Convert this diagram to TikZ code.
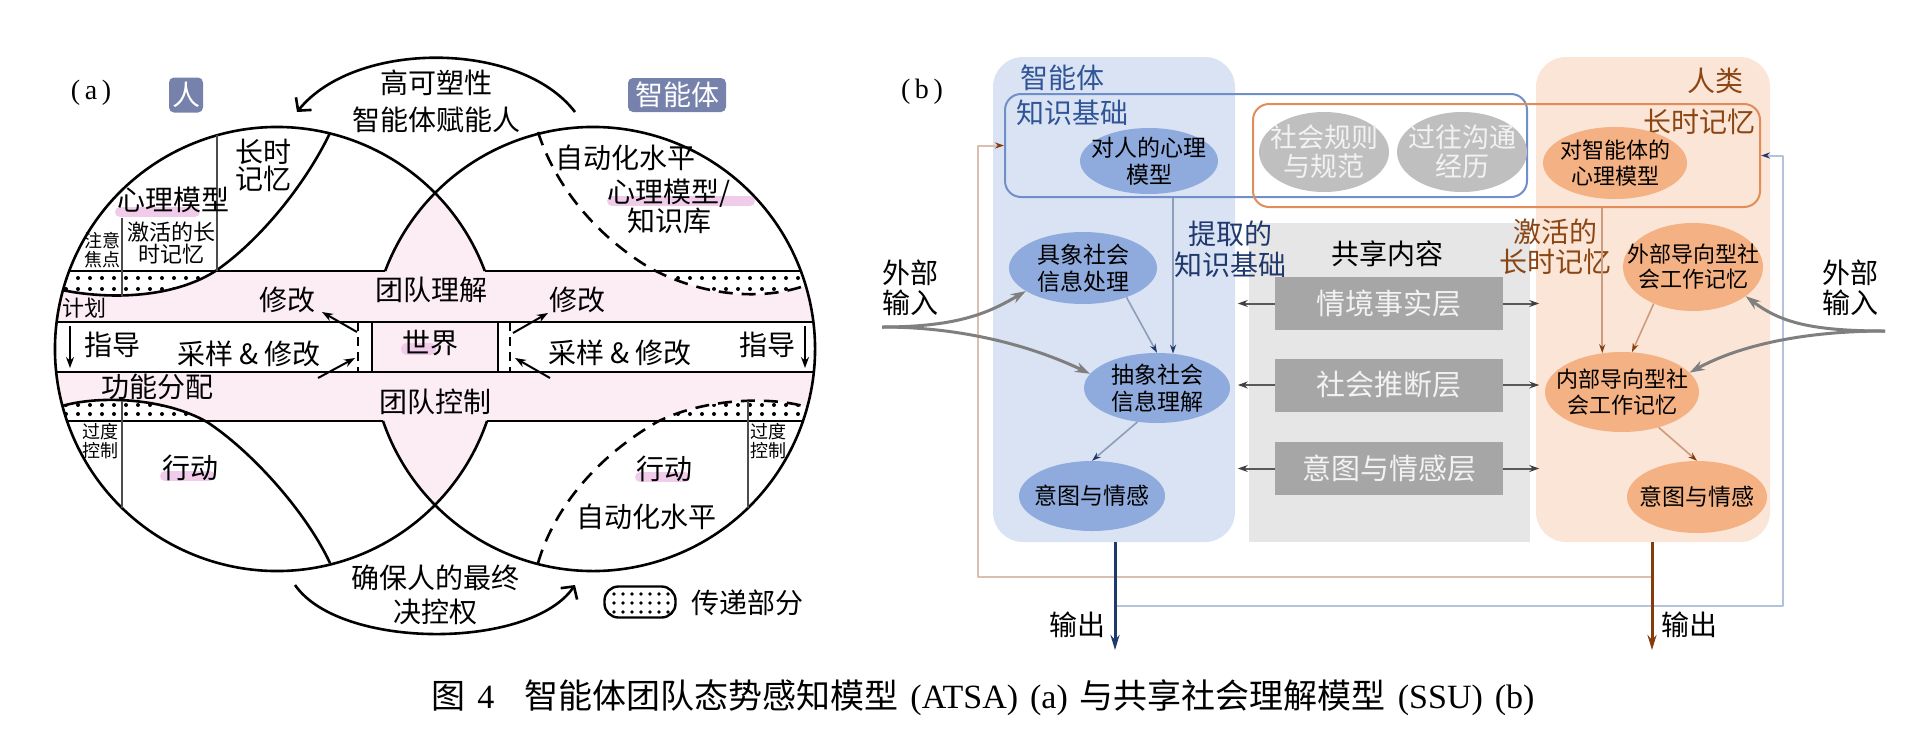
\documentclass[tikz,border=0pt]{standalone}
\usepackage{fontspec}
\setmainfont{Noto Sans CJK SC}
\newfontfamily\latinf{Liberation Serif}
\usetikzlibrary{calc,arrows.meta,shapes.geometric}
\definecolor{bandpink}{RGB}{252,237,245}
\definecolor{hlpink}{RGB}{240,204,234}
\definecolor{badge}{RGB}{118,130,172}
\definecolor{agentbg}{RGB}{218,227,243}
\definecolor{agentel}{RGB}{143,170,220}
\definecolor{humanbg}{RGB}{251,229,214}
\definecolor{humanel}{RGB}{244,177,131}
\definecolor{sharedbg}{RGB}{230,230,230}
\definecolor{layerbox}{RGB}{166,166,166}
\definecolor{grayel}{RGB}{191,191,191}
\definecolor{kbblue}{RGB}{112,143,200}
\definecolor{ltmorange}{RGB}{226,140,90}
\definecolor{titleblue}{RGB}{47,85,151}
\definecolor{navy}{RGB}{31,56,110}
\definecolor{brownt}{RGB}{140,70,20}
\definecolor{fbbrown}{RGB}{218,190,175}
\definecolor{fbblue}{RGB}{180,194,220}
\definecolor{inarrow}{RGB}{127,127,127}
\definecolor{agarrow}{RGB}{140,158,185}
\definecolor{hmarrow}{RGB}{205,155,125}
\definecolor{outbrown}{RGB}{132,60,12}
\definecolor{laytext}{RGB}{242,242,242}
\tikzset{
  txt/.style={inner sep=0pt, align=center, font=\fontsize{28}{30}\selectfont},
  txts/.style={inner sep=0pt, align=center, font=\fontsize{22}{22}\selectfont},
  txtxs/.style={inner sep=0pt, align=center, font=\fontsize{18}{18.5}\selectfont},
  bline/.style={line width=2.6pt, black},
  cellline/.style={line width=1.8pt, black!70},
  hl/.style={hlpink, line width=10pt, line cap=round},
  arrA/.style={line width=2pt, -{Stealth[length=11pt,width=8pt]}},
  bigarr/.style={line width=2.6pt, -{Straight Barb[length=9pt,width=20pt]}},
  badgebox/.style={fill=badge, rounded corners=5pt, text=white, inner sep=0pt, font=\fontsize{28}{30}\selectfont},
  ell/.style={ellipse, inner sep=-20pt, align=center, font=\fontsize{23}{27}\selectfont},
  agell/.style={ell, fill=agentel},
  huell/.style={ell, fill=humanel},
  grell/.style={ell, fill=grayel, text=laytext, font=\fontsize{27}{29}\selectfont},
  layer/.style={fill=layerbox, text=laytext, inner sep=0pt, minimum width=228pt, minimum height=53pt, font=\fontsize{29}{30}\selectfont},
  layarr/.style={black!65, line width=2pt, -{Stealth[length=10pt,width=7pt,color=black!75]}},
  agarr/.style={agarrow, line width=1.6pt, -{Stealth[length=9pt,width=6pt,color=navy]}},
  hmarr/.style={hmarrow, line width=1.6pt, -{Stealth[length=9pt,width=6pt,color=outbrown]}},
  inarr/.style={inarrow, line width=3pt, -{Stealth[length=15pt,width=10pt]}},
}
\begin{document}
\begin{tikzpicture}[x=1pt,y=-1pt,line join=round]
\useasboundingbox (0,0) rectangle (1932,734);

% ================= panel (a) =================
% pink fills
\begin{scope}
  \clip (277,349) circle[radius=222pt] (593,349) circle[radius=222pt];
  \fill[bandpink] (0,271) rectangle (900,322);
  \fill[bandpink] (0,372) rectangle (900,421);
  \fill[bandpink] (372,322) rectangle (498,372);
\end{scope}
\begin{scope}
  \clip (277,349) circle[radius=222pt];
  \fill[bandpink] (593,349) circle[radius=222pt];
\end{scope}

% dotted regions
\begin{scope}
  \clip (277,349) circle[radius=222pt];
  \clip (40,271) rectangle (260,310);
  \clip (330,133) .. controls (305,185) and (260,240) .. (217,270) .. controls (175,298) and (110,300) .. (62,290) -- (0,300) -- (0,100) -- (330,100) -- cycle;
  \fill[white] (0,0) rectangle (900,700);
  \foreach \yy in {278,289} \foreach \xx in {66,78,...,260} \fill (\xx,\yy) circle[radius=2pt];
\end{scope}
\begin{scope}
  \clip (277,349) circle[radius=222pt];
  \clip (40,390) rectangle (260,421);
  \clip (330,563) .. controls (305,510) and (250,450) .. (207,422) .. controls (165,398) and (100,395) .. (62,406) -- (0,400) -- (0,600) -- (330,600) -- cycle;
  \fill[white] (0,0) rectangle (900,700);
  \foreach \yy in {405,414} \foreach \xx in {66,78,...,260} \fill (\xx,\yy) circle[radius=2pt];
\end{scope}
\begin{scope}
  \clip (593,349) circle[radius=222pt];
  \clip (600,271) rectangle (830,310);
  \clip (538,132) .. controls (555,185) and (595,235) .. (650,268) .. controls (700,295) and (760,302) .. (807,285) -- (830,290) -- (830,100) -- (538,100) -- cycle;
  \fill[white] (0,0) rectangle (900,700);
  \foreach \yy in {278,289} \foreach \xx in {606,618,...,830} \fill (\xx,\yy) circle[radius=2pt];
\end{scope}
\begin{scope}
  \clip (593,349) circle[radius=222pt];
  \clip (600,390) rectangle (830,421);
  \clip (538,563) .. controls (555,505) and (600,455) .. (657,422) .. controls (700,400) and (765,395) .. (807,407) -- (830,400) -- (830,600) -- (538,600) -- cycle;
  \fill[white] (0,0) rectangle (900,700);
  \foreach \yy in {405,414} \foreach \xx in {606,618,...,830} \fill (\xx,\yy) circle[radius=2pt];
\end{scope}

% highlights
\draw[hl] (120,212) -- (195,212);
\draw[hl] (612,201) -- (750,201);
\draw[hl] (165,476) -- (210,476);
\draw[hl] (640,477) -- (685,477);
\draw[hl, line width=12pt] (407,349) -- (430,349);

% outlines
\draw[bline] ($(277,349)+(20.57:222pt)$) arc[start angle=20.57, end angle=341.08, radius=222pt];
\draw[bline] ($(593,349)+(198.92:222pt)$) arc[start angle=198.92, end angle=519.43, radius=222pt];
\draw[bline] (69.15,271) -- (385.15,271);
\draw[bline] (484.85,271) -- (800.85,271);
\draw[bline] (56.65,322) -- (813.35,322);
\draw[bline] (56.2,372) -- (813.8,372);
\draw[bline] (67,421) -- (383,421);
\draw[bline] (487,421) -- (803,421);
\draw[bline] (372,322) -- (372,372);
\draw[bline] (498,322) -- (498,372);
\draw[bline, dash pattern=on 9pt off 6pt] (358,322) -- (358,372);
\draw[bline, dash pattern=on 9pt off 6pt] (510,322) -- (510,372);

% leaf curves
\draw[bline] (330,133) .. controls (305,185) and (260,240) .. (217,270) .. controls (175,298) and (110,300) .. (62,290);
\draw[bline] (330,563) .. controls (305,510) and (250,450) .. (207,422) .. controls (165,398) and (100,395) .. (62,406);
\draw[bline, dash pattern=on 14pt off 9pt] (538,132) .. controls (555,185) and (595,235) .. (650,268) .. controls (700,295) and (760,302) .. (807,285);
\draw[bline, dash pattern=on 14pt off 9pt] (538,563) .. controls (555,505) and (600,455) .. (657,422) .. controls (700,400) and (765,395) .. (807,407);

% cell lines
\draw[cellline] (217,135) -- (217,271);
\draw[cellline] (122,218) -- (122,296);
\draw[cellline] (122,401) -- (122,508);
\draw[cellline] (748,401) -- (748,508);

% small arrows
\draw[arrA] (70,326) -- (70,368);
\draw[arrA] (805,326) -- (805,368);
\draw[arrA] (357,332) -- (322,312);
\draw[arrA] (318,378) -- (355,358);
\draw[arrA] (513,333) -- (548,313);
\draw[arrA] (550,378) -- (515,358);

% big arcs
\draw[bigarr] (575,112) .. controls (520,40) and (355,40) .. (297,112);
\draw[bigarr] (295,585) .. controls (340,650) and (530,650) .. (575,585);

% legend
\node[draw, line width=2.4pt, rounded corners=14pt, minimum width=71pt, minimum height=31pt, inner sep=0pt] (leg) at (640,602) {};
\foreach \yy in {594,603,612} \foreach \xx in {614,623,...,668} \fill (\xx,\yy) circle[radius=1.8pt];
\node[txt] (legt) at (747,603) {传递部分};

% badges
\node[badgebox, minimum width=34pt, minimum height=35pt] (bh) at (186,95) {人};
\node[badgebox, minimum width=98pt, minimum height=34pt] (ba) at (677,95) {智能体};

% texts (a)
\node[inner sep=0pt, font=\latinf\fontsize{28}{30}\selectfont] (ta) at (91,93) {(\,a\,)};
\node[txt, font=\fontsize{28}{37}\selectfont] (t1) at (436,101.5) {高可塑性\\智能体赋能人};
\node[txt, font=\fontsize{28}{27}\selectfont] (t2) at (263,165.5) {长时\\记忆};
\node[txt] (t3) at (173,200) {心理模型};
\node[txts] (t4) at (171,243) {激活的长\\时记忆};
\node[txtxs, font=\fontsize{18}{19}\selectfont] (t5) at (102,250.5) {注意\\焦点};
\node[txts] (t6) at (84,308) {计划};
\node[txt] (t7) at (287,300) {修改};
\node[txt] (t8) at (431,290) {团队理解};
\node[txt] (t9) at (112,345) {指导};
\node[txt] (t10) at (249,354) {采样 \& 修改};
\node[txt] (t11) at (430,343) {世界};
\node[txt] (t12) at (157,387) {功能分配};
\node[txt] (t13) at (435,402) {团队控制};
\node[txtxs] (t14) at (100,441) {过度\\控制};
\node[txt] (t15) at (190,468) {行动};
\node[txt, font=\fontsize{28}{34}\selectfont] (t16) at (435,595) {确保人的最终\\决控权};
\node[txtxs] (t17) at (768,441) {过度\\控制};
\node[txt] (t18) at (664,469) {行动};
\node[txt] (t19) at (646,517) {自动化水平};
\node[txt] (t20) at (625,158) {自动化水平};
\node[txt, font=\fontsize{28}{29}\selectfont] (t21) at (669,206.5) {心理模型/\\知识库};
\node[txt] (t22) at (577,300) {修改};
\node[txt] (t23) at (620,353) {采样 \& 修改};
\node[txt] (t24) at (767,345) {指导};

% ================= panel (b) =================
\node[fill=agentbg, rounded corners=30pt, minimum width=242pt, minimum height=485pt, inner sep=0pt] (ap) at (1114,299.5) {};
\node[fill=humanbg, rounded corners=30pt, minimum width=234pt, minimum height=485pt, inner sep=0pt] (hp) at (1653,299.5) {};
\node[fill=sharedbg, minimum width=281pt, minimum height=319pt, inner sep=0pt] (sp) at (1389.5,382.5) {};

\node[draw=kbblue, line width=2pt, rounded corners=16pt, minimum width=522pt, minimum height=103pt, inner sep=0pt] (kb) at (1266,145.5) {};
\node[draw=ltmorange, line width=2pt, rounded corners=16pt, minimum width=507pt, minimum height=103pt, inner sep=0pt] (ltm) at (1506.5,155.5) {};

\node[inner sep=0pt, font=\latinf\fontsize{28}{30}\selectfont] (tb) at (922,92) {(\,b\,)};
\node[txt, text=titleblue] (tag) at (1062,78) {智能体};
\node[txt, text=titleblue] (tkb) at (1072,113) {知识基础};
\node[txt, text=brownt] (thu) at (1715,81) {人类};
\node[txt, text=brownt] (tltm) at (1699,122) {长时记忆};
\node[txt, text=navy, font=\fontsize{28}{31}\selectfont] (tex) at (1230,249.5) {提取的\\知识基础};
\node[txt, text=brownt] (tac) at (1555,247) {激活的\\长时记忆};
\node[txt] (tsh) at (1387,254) {共享内容};

\node[grell, minimum width=130pt, minimum height=80pt] (g1) at (1324,152) {社会规则\\与规范};
\node[grell, minimum width=130pt, minimum height=80pt] (g2) at (1462,152) {过往沟通\\经历};

\node[agell, minimum width=138pt, minimum height=66pt] (am) at (1149,161) {对人的心理\\模型};
\node[agell, minimum width=148pt, minimum height=72pt] (a1) at (1083,268) {具象社会\\信息处理};
\node[agell, minimum width=146pt, minimum height=70pt] (a2) at (1157,388) {抽象社会\\信息理解};
\node[agell, minimum width=146pt, minimum height=70pt] (a3) at (1092,496) {意图与情感};

\node[huell, minimum width=144pt, minimum height=72pt, font=\fontsize{22}{26}\selectfont] (hm) at (1615,163) {对智能体的\\心理模型};
\node[huell, minimum width=140pt, minimum height=88pt, font=\fontsize{22}{25}\selectfont] (h1) at (1693,267) {外部导向型社\\会工作记忆};
\node[huell, minimum width=154pt, minimum height=80pt, font=\fontsize{22}{26}\selectfont] (h2) at (1622,392) {内部导向型社\\会工作记忆};
\node[huell, minimum width=140pt, minimum height=72pt] (h3) at (1697,497) {意图与情感};

\node[layer] (l1) at (1389,303.5) {情境事实层};
\node[layer] (l2) at (1389,385) {社会推断层};
\node[layer] (l3) at (1389,468.5) {意图与情感层};
\foreach \L in {l1,l2,l3}{
  \draw[layarr] (\L.west) -- ++(-37,0);
  \draw[layarr] (\L.east) -- ++(36,0);
}

\draw[agarr] (a1.-34) -- (a2.north);
\draw[agarr] (a2.65 |- kb.south) -- (a2.65);
\draw[agarr] (a2.-120) -- (a3.north);
\draw[hmarr] (h2.117 |- ltm.south) -- (h2.117);
\draw[hmarr] (h1.-137) -- (h2.76);
\draw[hmarr] (h2.-44) -- (h3.north);

% feedback loops
\coordinate (hfb) at (1652,577);
\coordinate (bc1) at (978,577);
\draw[fbbrown, line width=2pt, -{Stealth[length=9pt,width=6pt,color=outbrown]}] (hfb) -- (bc1) |- (kb.west);
\coordinate (afb) at (1115,606);
\coordinate (bc2) at (1783,606);
\draw[fbblue, line width=2pt, -{Stealth[length=9pt,width=6pt,color=navy]}] (afb) -- (bc2) |- (ltm.east);

% outputs
\coordinate (aout) at (1115,650);
\coordinate (hout) at (1652,650);
\draw[navy, line width=3pt, -{Stealth[length=15pt,width=9pt]}] (ap.south -| aout) -- (aout);
\draw[outbrown, line width=3pt, -{Stealth[length=15pt,width=9pt]}] (hp.south -| hout) -- (hout);
\node[txt] (o1) at (1077,625) {输出};
\node[txt] (o2) at (1689,625) {输出};

% external inputs
\node[txt] (inlt) at (910,288) {外部\\输入};
\node[txt] (inrt) at (1850,288) {外部\\输入};
\coordinate (inl) at (882,327);
\coordinate (inr) at (1885,331);
\draw[inarr] (inl) .. controls (960,327) and (990,312) .. (a1.-158);
\draw[inarr] (inl) .. controls (960,327) and (1030,345) .. (a2.168);
\draw[inarr] (inr) .. controls (1810,331) and (1780,322) .. (h1.-29);
\draw[inarr] (inr) .. controls (1805,331) and (1740,345) .. (h2.16);

% caption
\node[inner sep=0pt, font=\fontsize{34}{36}\selectfont] (cap) at (983,698) {图{\latinf\hspace{12pt}4}\hspace{30pt}智能体团队态势感知模型{\latinf\hspace{12pt}(ATSA)\hspace{12pt}(a)\hspace{12pt}}与共享社会理解模型{\latinf\hspace{12pt}(SSU)\hspace{12pt}(b)}};
\end{tikzpicture}
\end{document}
